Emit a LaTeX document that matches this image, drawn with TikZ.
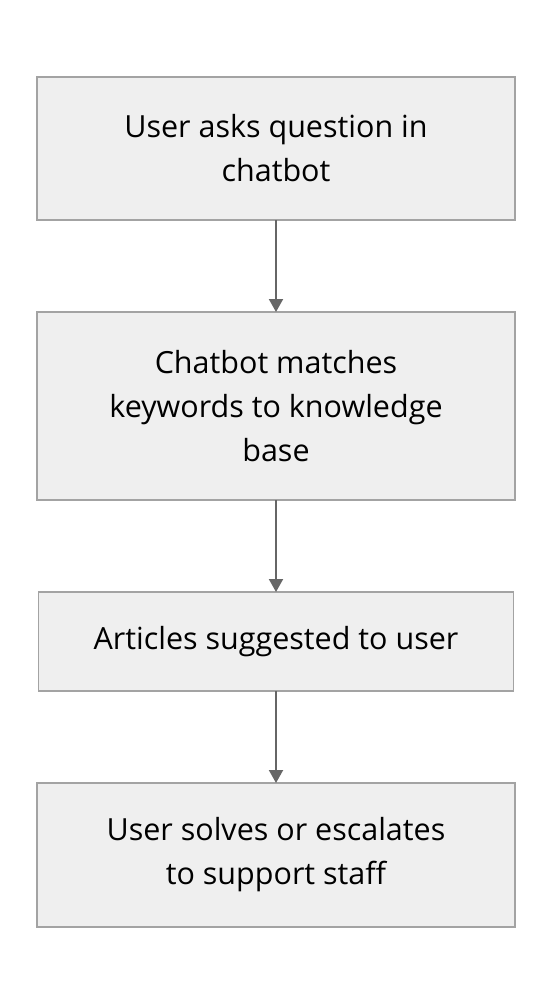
\documentclass[tikz,border=0pt]{standalone}
\usepackage{fontspec}
\setmainfont{Open Sans}
\usetikzlibrary{positioning,arrows.meta}
\definecolor{boxfill}{HTML}{EFEFEF}
\definecolor{boxline}{HTML}{A3A3A3}
\definecolor{flowline}{HTML}{666666}
\begin{document}
\begin{tikzpicture}[x=1pt,y=1pt,node distance={92pt},
    box/.style={draw=boxline, fill=boxfill, line width=1.5pt, minimum width=478pt,
      align=center, font=\fontsize{30.5}{44}\selectfont, inner sep=0pt, outer sep=0pt},
    flow/.style={draw=flowline, line width=2pt, -{Triangle[width=14pt,length=13pt]}}]
    \useasboundingbox (0,0) rectangle (552,-1004);
    \node[box, minimum height=143pt] (ask) at (276,-148.5) {User asks question in\\chatbot};
    \node[box, minimum height=188pt] (match) [below=of ask] {Chatbot matches\\keywords to knowledge\\base};
    \node[box, minimum height=99pt, minimum width=475pt] (suggest) [below=of match] {Articles suggested to user};
    \node[box, minimum height=144pt] (solve) [below=of suggest] {User solves or escalates\\to support staff};
    \draw[flow] (ask) -- (match);
    \draw[flow] (match) -- (suggest);
    \draw[flow] (suggest) -- (solve);
\end{tikzpicture}
\end{document}
